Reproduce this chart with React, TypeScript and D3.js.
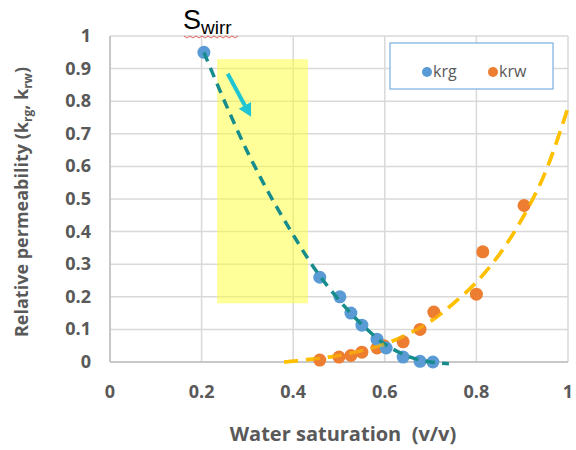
import React, { useRef, useEffect } from "react";
import * as d3 from "d3";

// measured points
const krgSw = [0.205, 0.458, 0.502, 0.526, 0.55, 0.583, 0.603, 0.64, 0.677, 0.705];
const krgVal = [0.95, 0.26, 0.2, 0.15, 0.113, 0.07, 0.043, 0.015, 0.002, 0.0];
const krwSw = [0.458, 0.5, 0.526, 0.55, 0.583, 0.598, 0.64, 0.677, 0.707, 0.8, 0.814, 0.904];
const krwVal = [0.006, 0.015, 0.02, 0.03, 0.043, 0.05, 0.062, 0.1, 0.153, 0.208, 0.338, 0.48];

// trend lines
const krgFitSw = [0.205, 0.25, 0.3, 0.35, 0.4, 0.45, 0.5, 0.55, 0.6, 0.65, 0.7, 0.74];
const krgFitVal = [0.95, 0.8, 0.645, 0.51, 0.39, 0.28, 0.19, 0.115, 0.055, 0.018, 0.0, -0.005];
const krwFitSw = [0.38, 0.45, 0.5, 0.55, 0.6, 0.65, 0.7, 0.75, 0.8, 0.85, 0.9, 0.95, 1.0];
const krwFitVal = [0.0, 0.01, 0.02, 0.035, 0.055, 0.085, 0.125, 0.18, 0.245, 0.33, 0.44, 0.58, 0.78];

// highlight box and arrow (data units)
const boxSw = [0.234, 0.432];
const boxKr = [0.18, 0.929];
const arrowSw = [0.257, 0.308];
const arrowKr = [0.884, 0.752];

const xTicks = [0, 0.2, 0.4, 0.6, 0.8, 1];
const yTicks = [0, 0.1, 0.2, 0.3, 0.4, 0.5, 0.6, 0.7, 0.8, 0.9, 1];

const App = () => {
  const svgRef = useRef<SVGSVGElement>(null);

  useEffect(() => {
    if (!svgRef.current) return;
    const svg = d3.select(svgRef.current);
    svg.selectAll("*").remove();

    const width = 576;
    const height = 450;
    const marginLeft = 110;
    const marginRight = 8;
    const marginTop = 36;
    const marginBottom = 88;

    const x = d3.scaleLinear([0, 1], [marginLeft, width - marginRight]);
    const y = d3.scaleLinear([0, 1], [height - marginBottom, marginTop]);

    const grey = "#595959";
    const font = "'Open Sans', 'Liberation Sans', sans-serif";

    svg
      .attr("width", width)
      .attr("height", height)
      .style("display", "block")
      .style("position", "absolute")
      .style("left", 0)
      .style("top", 0)
      .style("background", "#fff")
      .style("font-family", font);

    // grid
    const grid = svg.append("g").attr("stroke", "#d9d9d9").attr("stroke-width", 1.5);
    grid
      .selectAll("line.h")
      .data(yTicks)
      .join("line")
      .attr("x1", x(0))
      .attr("x2", x(1))
      .attr("y1", (d) => y(d))
      .attr("y2", (d) => y(d));
    grid
      .selectAll("line.v")
      .data(xTicks)
      .join("line")
      .attr("y1", y(0))
      .attr("y2", y(1))
      .attr("x1", (d) => x(d))
      .attr("x2", (d) => x(d));

    // axis lines
    svg
      .append("line")
      .attr("x1", x(0))
      .attr("x2", x(1))
      .attr("y1", y(0))
      .attr("y2", y(0))
      .attr("stroke", "#bfbfbf")
      .attr("stroke-width", 1.5);
    svg
      .append("line")
      .attr("x1", x(0))
      .attr("x2", x(0))
      .attr("y1", y(0))
      .attr("y2", y(1))
      .attr("stroke", "#bfbfbf")
      .attr("stroke-width", 1.5);

    // tick labels
    svg
      .append("g")
      .selectAll("text")
      .data(yTicks)
      .join("text")
      .attr("x", 91)
      .attr("y", (d) => y(d) + 6)
      .attr("text-anchor", "end")
      .attr("font-size", 18)
      .attr("font-weight", "bold")
      .attr("fill", grey)
      .text((d) => d3.format("~g")(d));
    svg
      .append("g")
      .selectAll("text")
      .data(xTicks)
      .join("text")
      .attr("x", (d) => x(d))
      .attr("y", 398)
      .attr("text-anchor", "middle")
      .attr("font-size", 18)
      .attr("font-weight", "bold")
      .attr("fill", grey)
      .text((d) => d3.format("~g")(d));

    // axis titles
    svg
      .append("text")
      .attr("x", 343)
      .attr("y", 441)
      .attr("text-anchor", "middle")
      .attr("font-size", 20)
      .attr("font-weight", "bold")
      .attr("fill", grey)
      .attr("xml:space", "preserve")
      .text("Water saturation  (v/v)");

    const yt = svg
      .append("text")
      .attr("transform", `translate(28,${(y(0) + y(1)) / 2 + 3}) rotate(-90)`)
      .attr("text-anchor", "middle")
      .attr("font-size", 18)
      .attr("font-weight", "bold")
      .attr("fill", grey);
    yt.append("tspan").text("Relative permeability (k");
    yt.append("tspan").attr("font-size", 12).attr("dy", 4).text("rg");
    yt.append("tspan").attr("dy", -4).text(", k");
    yt.append("tspan").attr("font-size", 12).attr("dy", 4).text("rw");
    yt.append("tspan").attr("dy", -4).text(")");

    // yellow highlight
    svg
      .append("rect")
      .attr("x", x(boxSw[0]))
      .attr("y", y(boxKr[1]))
      .attr("width", x(boxSw[1]) - x(boxSw[0]))
      .attr("height", y(boxKr[0]) - y(boxKr[1]))
      .attr("fill", "#ffff33")
      .attr("opacity", 0.5);

    // trend lines
    const krgPts: [number, number][] = krgFitSw.map((s, i) => [x(s), y(krgFitVal[i])]);
    const krwPts: [number, number][] = krwFitSw.map((s, i) => [x(s), y(krwFitVal[i])]);
    const path = d3.line().curve(d3.curveCatmullRom);

    svg
      .append("path")
      .attr("d", path(krwPts))
      .attr("fill", "none")
      .attr("stroke", "#ffc000")
      .attr("stroke-width", 3.5)
      .attr("stroke-dasharray", "14 8");

    // points
    svg
      .append("g")
      .selectAll("circle")
      .data(krwSw.map((s, i) => [s, krwVal[i]]))
      .join("circle")
      .attr("cx", (d) => x(d[0]))
      .attr("cy", (d) => y(d[1]))
      .attr("r", 6.5)
      .attr("fill", "#ed7d31");
    svg
      .append("g")
      .selectAll("circle")
      .data(krgSw.map((s, i) => [s, krgVal[i]]))
      .join("circle")
      .attr("cx", (d) => x(d[0]))
      .attr("cy", (d) => y(d[1]))
      .attr("r", 6.5)
      .attr("fill", "#5b9bd5");

    svg
      .append("path")
      .attr("d", path(krgPts))
      .attr("fill", "none")
      .attr("stroke", "#168c8c")
      .attr("stroke-width", 3.5)
      .attr("stroke-dasharray", "10 7");

    // orange dashes over orange points
    svg
      .append("path")
      .attr("d", path(krwPts))
      .attr("fill", "none")
      .attr("stroke", "#ffc000")
      .attr("stroke-width", 3.5)
      .attr("stroke-dasharray", "14 8")
      .attr("opacity", 0.6);

    // cyan arrow
    const ax0 = x(arrowSw[0]);
    const ay0 = y(arrowKr[0]);
    const ax1 = x(arrowSw[1]);
    const ay1 = y(arrowKr[1]);
    const ang = Math.atan2(ay1 - ay0, ax1 - ax0);
    const hl = 13;
    const hw = 7;
    const bx = ax1 - hl * Math.cos(ang);
    const by = ay1 - hl * Math.sin(ang);
    svg
      .append("line")
      .attr("x1", ax0)
      .attr("y1", ay0)
      .attr("x2", bx)
      .attr("y2", by)
      .attr("stroke", "#1fc5d3")
      .attr("stroke-width", 4);
    svg
      .append("path")
      .attr(
        "d",
        `M${ax1},${ay1}L${bx + hw * Math.sin(ang)},${by - hw * Math.cos(ang)}L${bx - hw * Math.sin(ang)},${by + hw * Math.cos(ang)}Z`
      )
      .attr("fill", "#1fc5d3");

    // Swirr label
    const sw = svg
      .append("text")
      .attr("x", 183)
      .attr("y", 29)
      .attr("fill", "#000")
      .attr("font-family", "'Liberation Sans', Arial, sans-serif");
    sw.append("tspan").attr("font-size", 27).text("S");
    sw.append("tspan").attr("font-size", 19).attr("dy", 5).text("wirr");
    const wave = d3
      .range(184, 240, 3)
      .map((px, i) => `${i ? "L" : "M"}${px},${i % 2 ? 38 : 36}`)
      .join("");
    svg
      .append("path")
      .attr("d", wave)
      .attr("fill", "none")
      .attr("stroke", "#e04040")
      .attr("stroke-width", 0.8);

    // legend
    const lg = svg.append("g");
    lg.append("rect")
      .attr("x", 390)
      .attr("y", 43)
      .attr("width", 163)
      .attr("height", 46)
      .attr("fill", "#fff")
      .attr("stroke", "#7ab0e0")
      .attr("stroke-width", 1.2);
    const items = [
      { label: "krg", color: "#5b9bd5", cx: 427 },
      { label: "krw", color: "#ed7d31", cx: 493 },
    ];
    items.forEach((it) => {
      lg.append("circle").attr("cx", it.cx).attr("cy", 72).attr("r", 5).attr("fill", it.color);
      lg.append("text")
        .attr("x", it.cx + 6)
        .attr("y", 77)
        .attr("font-size", 16)
        .attr("fill", grey)
        .text(it.label);
    });
  }, []);

  return <svg ref={svgRef}></svg>;
};

export default App;
